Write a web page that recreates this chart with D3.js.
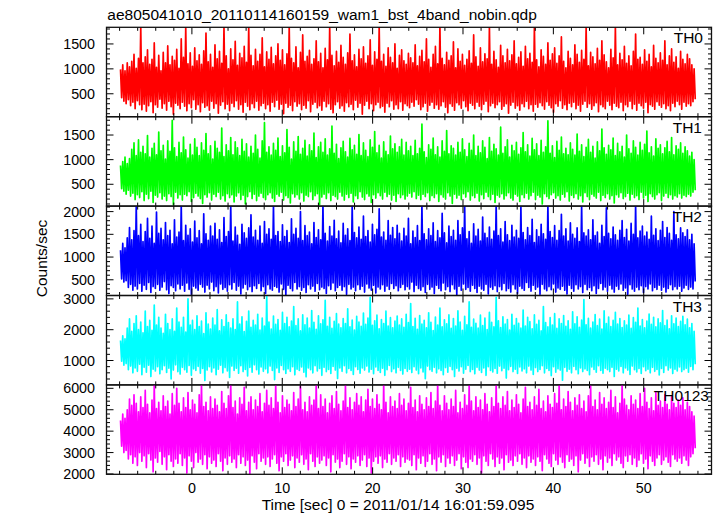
<!DOCTYPE html>
<html><head><meta charset="utf-8">
<script src="https://cdn.jsdelivr.net/npm/d3@7"></script>
<style>
html,body{margin:0;padding:0;background:#fff;}
svg{display:block;}
text{font-family:"Liberation Sans",Arial,Helvetica,sans-serif;fill:#000;}
</style>
</head><body>
<svg id="c" width="717" height="516"></svg>
<script>
// ---------------- data ----------------
const title = "ae805041010_20110114160159_wam1_bst_4band_nobin.qdp";
const xLabel = "Time [sec] 0 = 2011/01/14 16:01:59.095";
const yLabel = "Counts/sec";
const bands = ["TH0", "TH1", "TH2", "TH3", "TH0123"];
const colors = ["#ff0000", "#00ff00", "#0000ff", "#00ffff", "#ff00ff"];
const tStart = -7.9, tStep = 0.12446;          // sample times of the light curve
const xDomain = [-9.45, 57.5];
const xTickLabels = [0, 10, 20, 30, 40, 50];
const yDomains = [[40, 1834], [57, 1872], [154, 2121], [208, 3110], [1985, 6160]];
const yTickLabels = [[500, 1000, 1500], [500, 1000, 1500], [500, 1000, 1500, 2000], [1000, 2000, 3000], [2000, 3000, 4000, 5000, 6000]];
const yMinorStep = [100, 100, 100, 200, 200];

const th0 = [
990,420,1080,350,960,300,1120,380,1040,260,1150,330,1290,200,1010,360,
1210,280,1840,180,1120,290,1240,150,1380,260,1090,340,1190,120,1520,280,
1030,230,1270,390,960,210,1330,300,1120,170,1460,350,1080,240,1250,90,
1170,310,1390,270,1010,200,1600,330,1230,250,1840,160,1100,300,1320,220,
1050,380,1420,190,1160,280,1280,140,1090,320,1360,230,1720,260,1140,170,
1290,350,1030,210,1480,300,1200,110,1350,270,1110,340,1840,200,1260,290,
1000,160,1400,310,1180,240,1550,360,1070,190,1310,280,1220,130,1450,330,
1130,250,1840,180,1270,300,1060,220,1390,350,1150,170,1290,260,1620,310,
1040,200,1340,280,1190,150,1430,330,1100,240,1260,370,1500,190,1170,290,
1380,100,1080,310,1300,230,1840,270,1210,160,1120,340,1440,250,1020,300,
1330,180,1680,270,1150,210,1250,360,1370,140,1090,290,1200,330,1560,220,
1140,260,1310,170,1020,350,1410,240,1180,300,1840,190,1270,120,1060,280,
1350,340,1130,210,1470,260,1230,150,1090,320,1320,240,1700,290,1160,180,
1280,370,1040,230,1390,310,1200,90,1440,270,1110,350,1260,200,1580,300,
1070,160,1340,280,1190,330,1840,220,1150,250,1290,130,1050,310,1420,240,
1230,360,1120,190,1500,280,1010,200,1270,340,1380,170,1160,300,1090,260,
1310,220,1220,330,1120,250,1480,380,1060,290,1250,180,1370,240,1140,310,
1600,150,1190,270,1030,330,1290,210,1450,280,1100,190,1840,260,1210,340,
1080,230,1330,120,1170,300,1260,250,1540,170,1020,320,1400,280,1150,210,
1290,360,1070,240,1190,160,1360,310,1110,270,1680,200,1240,330,1050,250,
1420,180,1140,290,1300,350,1200,140,1840,260,1090,310,1350,220,1180,280,
1030,340,1470,190,1260,250,1120,300,1390,110,1160,270,1280,330,1560,210,
1100,260,1230,170,1340,300,1050,240,1450,350,1200,200,1310,280,1130,150,
1840,290,1180,230,1040,320,1380,260,1250,190,1090,340,1520,270,1170,220,
1300,130,1420,300,1110,250,1260,360,1640,210,1150,280,1020,180,1350,310,
1210,240,1080,330,1480,200,1290,270,1130,150,1370,290,1190,350,1840,230,
1060,300,1330,190,1240,260,1100,320,1410,140,1170,280,1560,240,1280,200,
1140,350,1020,270,1390,180,1220,310,1840,250,1080,220,1310,330,1180,160,
1450,280,1110,240,1260,350,1060,200,1350,290,1700,170,1190,310,1230,260,
1090,210,1380,330,1150,120,1290,280,1040,250,1470,190,1210,340,1120,270,
1320,230,1170,300,1560,200,1080,260,1260,160,1400,310,1130,240,1240,350,
1010,280,1350,190,1190,330,1100,250,1290,300,1200,260,1080,340,1000,390];

const th1 = [
880,410,960,360,1050,300,920,380,1020,260,1210,320,1340,190,1080,290,
1400,230,1150,350,1270,170,1120,300,1490,210,1050,360,1230,130,1330,280,
1100,240,1560,330,1180,200,1290,260,1010,170,1380,310,1170,250,1800,90,
1240,340,1060,220,1350,290,1140,180,1460,300,1200,270,1030,350,1310,150,
1090,230,1420,320,1250,260,1080,210,1340,110,1190,290,1530,240,1120,330,
1280,180,1010,300,1370,250,1230,340,1150,200,1640,270,1060,160,1300,310,
1180,230,1450,290,1100,140,1360,260,1240,330,1080,190,1410,280,1170,100,
1320,250,1050,350,1270,210,1130,300,1500,170,1210,260,1030,320,1380,230,
1750,190,1150,290,1260,330,1090,220,1330,150,1190,300,1440,260,1060,340,
1280,180,1140,270,1610,230,1250,120,1010,310,1360,240,1170,290,1470,200,
1110,330,1230,160,1390,280,1070,250,1300,350,1180,190,1540,270,1040,310,
1260,90,1350,240,1150,300,1420,210,1090,330,1220,170,1680,280,1130,250,
1310,200,1020,340,1240,260,1370,180,1160,300,1050,230,1430,320,1200,140,
1290,270,1110,210,1510,350,1080,240,1340,190,1190,310,1060,260,1400,130,
1250,290,1570,220,1140,330,1290,270,1030,200,1360,340,1170,250,1100,300,
1480,180,1220,280,1320,150,1150,310,1260,230,1410,290,1090,200,1350,260,
1180,320,1270,240,1080,350,1390,210,1120,280,1230,190,1720,300,1160,250,
1040,330,1300,170,1210,270,1440,230,1100,310,1260,150,1050,290,1380,240,
1170,200,1590,330,1120,260,1280,110,1230,300,1090,220,1350,280,1150,190,
1420,310,1200,240,1060,350,1330,180,1190,270,1500,230,1080,320,1270,160,
1140,290,1380,210,1250,340,1020,250,1450,190,1170,300,1310,130,1220,280,
1090,240,1660,310,1130,200,1260,270,1400,330,1050,220,1290,180,1180,300,
1350,260,1110,150,1240,290,1550,230,1160,320,1300,200,1070,270,1430,340,
1200,190,1320,280,1080,240,1390,100,1150,310,1260,250,1790,210,1130,290,
1280,330,1040,220,1370,270,1190,180,1460,300,1120,240,1230,350,1100,160,
1340,280,1210,230,1090,310,1520,200,1170,270,1300,140,1060,330,1250,250,
1410,190,1150,300,1270,260,1030,220,1360,340,1180,170,1620,280,1240,230,
1110,310,1290,200,1200,270,1440,120,1080,290,1330,240,1160,330,1270,210,
1050,250,1500,320,1220,180,1130,300,1380,230,1250,270,1090,190,1350,340,
1190,220,1310,280,1580,150,1140,310,1260,250,1070,200,1420,290,1230,330,
1300,170,1120,260,1240,320,1370,230,1160,290,1450,200,1100,270,1280,240,
1210,310,1340,220,1130,280,1260,250,1180,300,1070,260,1150,340,1000,380];

const th2 = [
1150,520,1300,450,1200,480,1420,330,1650,400,1380,270,1580,360,2150,300,
1470,420,1720,250,1340,380,1560,290,1850,440,1410,220,1680,350,1300,310,
1990,400,1520,270,1630,340,1380,460,1760,280,1470,200,1590,370,1290,330,
1820,260,1440,410,1550,300,2150,380,1360,250,1700,430,1480,290,1620,180,
1330,360,1790,320,1420,270,1580,400,1290,340,1950,230,1510,380,1370,300,
1680,450,1460,260,1740,350,1390,210,1600,410,1320,290,1870,330,1450,250,
1560,390,2150,300,1350,440,1660,270,1480,360,1280,190,1720,320,1530,400,
1410,280,1640,350,1930,240,1440,370,1590,310,1370,420,1680,260,1300,350,
1780,200,1500,390,1620,300,1390,270,2150,360,1470,330,1560,230,1340,410,
1710,290,1450,170,1580,380,1320,310,1840,260,1500,440,1630,300,1410,350,
2000,270,1360,330,1690,220,1470,390,1550,300,1290,360,1760,250,1430,420,
1600,280,1380,340,2150,310,1520,200,1350,370,1670,290,1460,430,1810,260,
1400,330,1570,380,1310,270,1740,350,1480,180,1620,400,1360,300,2150,340,
1540,260,1420,390,1660,290,1390,360,1900,230,1450,410,1580,320,1330,270,
1720,380,1490,210,1610,340,2060,300,1440,390,1550,250,1370,360,1800,290,
1480,420,1650,310,1400,370,1700,260,1520,330,1350,400,1630,280,1460,350,
1850,300,1290,450,1570,240,1430,380,1690,310,1360,270,2150,350,1510,220,
1380,400,1620,290,1470,340,1750,200,1340,380,1580,310,1420,260,1960,430,
1530,280,1310,350,1680,240,1450,390,1590,300,1370,170,1800,360,1490,270,
1640,410,2150,290,1400,330,1560,250,1300,380,1730,310,1460,220,1610,360,
1350,300,1880,270,1520,400,1420,190,1660,340,1390,290,1570,370,2150,240,
1470,350,1620,280,1330,420,1780,260,1490,310,1360,230,1700,390,1440,300,
1590,200,1410,360,2100,310,1540,270,1380,440,1650,330,1470,250,1830,380,
1320,290,1600,340,1450,180,1720,400,1510,300,1390,260,2150,350,1560,280,
1430,410,1690,230,1370,320,1580,290,1940,360,1460,270,1620,190,1350,380,
1750,310,1500,250,1410,390,1640,300,1340,350,2150,220,1530,400,1460,280,
1600,330,1380,260,1820,370,1470,200,1550,310,1300,420,1700,280,1450,340,
2080,250,1520,380,1400,300,1660,230,1490,360,1370,290,1590,410,1800,270,
1430,320,1610,180,1350,390,1740,300,1500,250,2150,340,1420,280,1570,370,
1680,220,1460,350,1550,300,1390,410,1900,260,1480,330,1620,290,1360,380,
1590,270,1780,340,1430,230,1650,310,1520,390,1370,280,2000,350,1490,300,
1400,360,1640,250,1530,320,1450,380,1600,290,1380,340,1500,300,1290,460];

const th3 = [
1650,980,1800,850,1700,900,2050,700,2350,820,1950,600,2200,760,2450,650,
2000,880,2250,540,1900,780,2600,620,2100,850,2300,480,1980,720,2800,660,
2150,800,2400,570,2050,700,1880,830,2500,610,2200,750,2000,400,2350,690,
1950,860,2700,640,2250,560,2080,780,2400,700,1920,620,3000,840,2150,520,
2300,730,2000,680,2450,810,2100,590,2280,740,1870,350,2550,690,2180,800,
2020,630,2380,760,2150,540,2650,720,1960,850,2320,600,2100,770,2480,660,
2230,450,2050,820,2350,680,2000,750,2900,590,2180,830,2420,640,1940,710,
2270,500,2600,780,2080,620,2300,860,2150,700,2500,560,1990,790,2380,650,
2120,730,3100,600,2250,820,2020,680,2440,380,2170,760,2330,610,1980,840,
2560,700,2200,580,2400,730,2090,650,2280,800,2750,540,2130,720,2350,680,
1960,790,2480,620,2160,470,2380,760,2050,700,2620,600,2240,830,2010,660,
2450,740,2190,520,2320,780,2950,640,2110,710,2400,580,2040,810,2270,690,
2520,420,2180,760,2060,650,2360,830,2200,600,2680,740,2090,680,2310,550,
1990,800,2430,710,2250,590,2110,760,2540,690,2170,820,2380,630,3050,720,
2140,570,2290,790,2470,680,2030,610,2330,750,2200,520,2600,700,2120,840,
2390,640,2060,730,2280,600,2440,780,2150,680,2350,560,2080,740,2500,650,
2230,720,2850,610,2100,800,2370,690,2010,570,2460,760,2180,630,2300,410,
2060,820,2550,700,2240,650,1970,780,2410,600,2150,730,2700,680,2090,540,
2320,770,2190,620,2480,810,2040,700,2360,480,2120,750,2610,660,2250,800,
1980,590,2430,720,2160,840,2900,640,2080,710,2340,570,2210,780,2050,690,
2470,610,2130,760,2380,520,2000,800,2560,680,2240,630,2090,740,3050,590,
2290,820,2070,670,2420,750,2180,430,2330,700,1990,810,2500,640,2140,720,
2360,580,2210,790,2050,660,2640,730,2120,600,2400,820,2260,690,2030,550,
2480,770,2170,640,2300,710,1960,830,2750,600,2230,740,2090,680,2390,510,
2150,800,2520,620,2040,730,2350,690,2200,360,2460,780,2110,650,2290,720,
2010,600,2580,810,2190,700,2420,570,2080,760,2310,640,2980,730,2160,680,
2370,540,2050,790,2250,710,2490,620,2130,830,2340,680,2020,590,2610,750,
2200,700,2410,640,2100,780,2300,480,2560,720,2180,660,2360,810,2070,600,
2290,760,2150,690,2470,550,2040,820,2390,700,2240,630,2700,740,2120,580,
2330,800,2060,670,2280,720,2510,600,2170,780,2400,650,2090,710,2350,530,
2220,740,2620,610,2130,830,2310,690,2030,760,2450,580,2190,720,2380,660,
2100,790,2270,640,2430,700,2160,750,2340,620,2060,810,2200,700,1950,880];

const th0123 = [
4500,3300,4800,3000,4600,3100,5000,2700,5500,2900,5200,2500,5700,2800,5300,2400,
4900,3000,5600,2600,5100,2850,5900,2300,5250,2950,4850,2650,5450,2100,6200,2750,
5050,2550,5350,3050,4950,2450,5650,2800,5150,2200,5400,2900,4800,2600,5750,2350,
5200,2700,6000,2500,5300,2950,4900,2400,5550,2750,5100,2050,5800,2850,5000,2600,
5450,2300,5250,3000,4850,2550,5700,2700,6200,2450,5150,2900,5350,2250,4950,2800,
5600,2500,5050,2650,5500,2350,5200,2950,4900,2600,5850,2150,5300,2750,5050,2450,
5650,2850,6200,2550,5100,2700,5400,2300,4800,2900,5550,2500,5250,2800,6050,2400,
4950,2650,5350,2000,5600,2850,5000,2550,5450,2250,5150,2950,5750,2600,4900,2750,
5300,2450,5900,2800,5200,2350,5550,2700,5050,2900,6200,2500,5350,2150,4850,2800,
5650,2600,5100,2950,5450,2400,5250,2650,4950,2850,5800,2300,5150,2750,5500,2550,
6100,2900,5000,2450,5350,2700,4900,2200,5600,2950,5200,2600,5450,2350,6200,2800,
5050,2500,5700,2650,5150,2850,5500,2400,4850,2750,5300,2100,5650,2900,5050,2550,
5850,2700,5250,2300,4950,2600,5400,2950,6150,2450,5100,2800,5550,2250,5000,2700,
5350,2550,5750,2850,5200,2400,5600,2650,4900,2900,5450,2350,5950,2750,5150,2050,
5500,2600,5050,2800,5700,2500,5250,2850,5000,2300,6200,2700,5350,2550,4850,2950,
5600,2450,5150,2750,5400,2600,5050,2900,5750,2350,5200,2800,5500,2550,4950,2700,
5300,2650,6050,2400,5100,2900,5450,2200,4900,2750,5650,2500,5250,2850,5000,2350,
5550,2600,5150,2950,5800,2450,5050,2700,5400,2150,6200,2800,5200,2550,4950,2900,
5650,2350,5300,2750,5000,2500,5500,2850,5150,2400,5900,2650,4850,2950,5350,2250,
5050,2800,5700,2550,5200,2300,6150,2700,5400,2600,4950,2900,5600,2450,5100,2750,
5450,2050,5000,2850,5750,2600,5250,2400,4900,2950,5550,2700,5150,2350,6200,2800,
5300,2500,5050,2750,5600,2200,5200,2900,5850,2550,4950,2650,5450,2400,5100,2850,
5700,2600,5250,2950,4850,2450,5500,2750,6050,2300,5150,2850,5350,2550,5000,2700,
5600,2400,5200,2800,5950,2600,5050,2150,5400,2900,4900,2700,5650,2500,5250,2350,
5100,2950,5750,2650,5300,2450,6200,2800,5000,2550,5500,2300,5150,2900,5850,2600,
5350,2700,4950,2400,5550,2850,5200,2100,5700,2650,5050,2950,5400,2500,4900,2750,
5650,2350,6100,2800,5150,2600,5450,2900,5000,2450,5800,2700,5250,2200,5550,2850,
5050,2550,5350,2750,5900,2400,5100,2950,5600,2650,4850,2800,5300,2500,6200,2300,
5500,2850,5200,2600,5000,2900,5650,2450,5250,2750,5450,2350,5050,2650,5750,2950,
5150,2500,6000,2700,5350,2250,5050,2850,5550,2600,4950,2400,5800,2750,5200,2900,
5400,2450,5100,2650,5700,2800,5250,2550,5000,2350,5600,2900,5300,2700,5100,2600,
5450,2750,5200,2500,5550,2850,5000,2650,5350,2400,5150,2800,4900,2950,4700,3200];

const series = [th0, th1, th2, th3, th0123];

// ---------------- layout ----------------
const L = 106.5, R = 711.5, TOP = 27.3, PH = 89.4;
const labelRight = [703, 702, 702, 702, 709];
const svg = d3.select("#c");
const x = d3.scaleLinear().domain(xDomain).range([L, R]);

const defs = svg.append("defs");
const xMajor = xTickLabels;
const xMinor = d3.range(-8, 57, 2).filter(v => v % 10 !== 0);

series.forEach((vals, p) => {
  const y0 = TOP + p * PH, y1 = y0 + PH;
  const y = d3.scaleLinear().domain(yDomains[p]).range([y1, y0]);
  const g = svg.append("g");

  defs.append("clipPath").attr("id", "clip" + p)
    .append("rect").attr("x", L).attr("y", y0).attr("width", R - L).attr("height", PH);

  const line = d3.line()
    .x((d, i) => x(tStart + i * tStep))
    .y(d => y(d));
  g.append("path")
    .attr("clip-path", "url(#clip" + p + ")")
    .attr("d", line(vals))
    .attr("fill", "none")
    .attr("stroke", colors[p])
    .attr("stroke-width", 1.7)
    .attr("stroke-linejoin", "round");

  // y ticks (left and right, inward)
  const [d0, d1] = yDomains[p];
  const st = yMinorStep[p];
  const minors = d3.range(Math.ceil(d0 / st) * st, d1 + 1e-9, st);
  const majors = yTickLabels[p];
  minors.forEach(v => {
    const isMaj = majors.includes(v);
    const len = isMaj ? 7 : 3.5;
    const yy = y(v);
    g.append("line").attr("x1", L).attr("x2", L + len).attr("y1", yy).attr("y2", yy)
      .attr("stroke", "#000").attr("stroke-width", 1);
    g.append("line").attr("x1", R - len).attr("x2", R).attr("y1", yy).attr("y2", yy)
      .attr("stroke", "#000").attr("stroke-width", 1);
  });
  majors.forEach(v => {
    g.append("text").attr("x", 95).attr("y", y(v)).attr("dy", "0.36em")
      .attr("text-anchor", "end").attr("font-size", 14.3).text(v);
  });

  // x ticks (top and bottom of each panel, inward)
  xMinor.concat(xMajor).forEach(v => {
    const isMaj = xMajor.includes(v);
    const len = isMaj ? 7 : 3.5;
    const xx = x(v);
    g.append("line").attr("x1", xx).attr("x2", xx).attr("y1", y1).attr("y2", y1 - len)
      .attr("stroke", "#000").attr("stroke-width", 1);
    g.append("line").attr("x1", xx).attr("x2", xx).attr("y1", y0).attr("y2", y0 + len)
      .attr("stroke", "#000").attr("stroke-width", 1);
  });

  // frame
  g.append("rect").attr("x", L).attr("y", y0).attr("width", R - L).attr("height", PH)
    .attr("fill", "none").attr("stroke", "#111").attr("stroke-width", 1.3);

  // band label
  g.append("text").attr("x", labelRight[p]).attr("y", y0 + 16)
    .attr("text-anchor", "end").attr("font-size", 15.5).text(bands[p]);
});

// x tick labels
const yBottom = TOP + 5 * PH;
xMajor.forEach(v => {
  svg.append("text").attr("x", x(v)).attr("y", yBottom + 18.5)
    .attr("text-anchor", "middle").attr("font-size", 14.3).text(v);
});

// titles
svg.append("text").attr("x", 107.3).attr("y", 19.5).attr("font-size", 15.5).text(title);
svg.append("text").attr("x", 398).attr("y", 509.5).attr("text-anchor", "middle")
  .attr("font-size", 15.5).text(xLabel);
svg.append("text").attr("transform", "translate(46.5,258.5) rotate(-90)")
  .attr("text-anchor", "middle").attr("font-size", 15.5).text(yLabel);
</script>
</body></html>
